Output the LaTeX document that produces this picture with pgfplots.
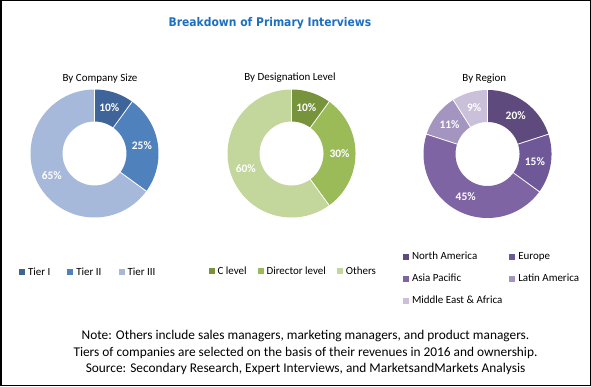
\documentclass[border=0pt]{standalone}
\usepackage{pgfplots}
\usepackage{pgfplotstable}
\pgfplotsset{compat=1.18}
\usepackage{fontspec}
\setmainfont{Carlito}
\newfontfamily\titlefont[FakeStretch=0.9]{DejaVu Sans}

\definecolor{titleblue}{HTML}{1E6FBE}
\definecolor{comp0}{HTML}{3F649A}
\definecolor{comp1}{HTML}{4F81BD}
\definecolor{comp2}{HTML}{A7B9DA}
\definecolor{desg0}{HTML}{77933C}
\definecolor{desg1}{HTML}{9BBB59}
\definecolor{desg2}{HTML}{C3D69B}
\definecolor{regn0}{HTML}{5F4A7D}
\definecolor{regn1}{HTML}{6F5898}
\definecolor{regn2}{HTML}{7F64A4}
\definecolor{regn3}{HTML}{A494C0}
\definecolor{regn4}{HTML}{CAC0DA}

\pgfplotstableread{
name value
TierI 10
TierII 25
TierIII 65
}\companytable
\pgfplotstableread{
name value
Clevel 10
Director 30
Others 60
}\designationtable
\pgfplotstableread{
name value
NorthAmerica 20
Europe 15
AsiaPacific 45
LatinAmerica 11
MEA 9
}\regiontable

\def\rin{32}
\def\rout{64}

% draws the donut segments of table #1 with colours #2<row>
\newcommand\drawdonut[2]{%
  \pgfplotstablegetrowsof{#1}%
  \pgfmathtruncatemacro\lastrow{\pgfplotsretval-1}%
  \def\cum{0}%
  \pgfplotsforeachungrouped \i in {0,...,\lastrow}{%
    \pgfplotstablegetelem{\i}{value}\of{#1}%
    \let\val\pgfplotsretval
    \pgfmathsetmacro\aS{90-3.6*\cum}%
    \pgfmathsetmacro\aE{90-3.6*(\cum+\val)}%
    \pgfmathsetmacro\rmid{(\rin+\rout)/2}%
    \pgfmathsetmacro\lw{\rout-\rin}%
    \edef\temp{%
      \noexpand\addplot[forget plot, draw=#2\i, line width=\lw bp, domain=\aE:\aS, samples=80] ({\rmid*cos(x)},{\rmid*sin(x)});
    }%
    \temp
    \pgfmathsetmacro\cum{\cum+\val}%
  }%
  \def\cum{0}%
  \pgfplotsforeachungrouped \i in {0,...,\lastrow}{%
    \pgfplotstablegetelem{\i}{value}\of{#1}%
    \let\val\pgfplotsretval
    \pgfmathsetmacro\aS{90-3.6*\cum}%
    \pgfmathsetmacro\aE{90-3.6*(\cum+\val)}%
    \pgfmathsetmacro\aM{(\aS+\aE)/2}%
    \pgfmathsetmacro\rmid{(\rin+\rout)/2}%
    \pgfmathsetmacro\lx{\rmid*cos(\aM)}%
    \pgfmathsetmacro\ly{\rmid*sin(\aM)}%
    \pgfmathsetmacro\ax{(\rin-0.5)*cos(\aS)}%
    \pgfmathsetmacro\ay{(\rin-0.5)*sin(\aS)}%
    \pgfmathsetmacro\bx{(\rout+0.5)*cos(\aS)}%
    \pgfmathsetmacro\by{(\rout+0.5)*sin(\aS)}%
    \edef\temp{%
      \noexpand\addplot[forget plot, white, line width=0.8bp] coordinates {(\ax,\ay) (\bx,\by)};
      \noexpand\node[text=white, font=\noexpand\bfseries\noexpand\fontsize{11.5}{13}\noexpand\selectfont] at (axis cs:\lx,\ly) {\val\noexpand\%};
    }%
    \temp
    \pgfmathsetmacro\cum{\cum+\val}%
  }%
}

\pgfplotsset{
  donut/.style={
    hide axis, x=1bp, y=1bp, xmin=-70, xmax=70, ymin=-70, ymax=70,
    clip=false, anchor=origin,
    legend cell align=left,
    legend style={draw=none, fill=none, inner sep=0pt, outer sep=0pt,
      font=\fontsize{11}{13}\selectfont,
      nodes={inner xsep=3bp, inner ysep=1bp}},
    legend image code/.code={\fill[##1, draw=none] (0bp,-3bp) rectangle (6bp,3bp);},
  },
}

\begin{document}
\begin{tikzpicture}[x=1bp,y=1bp]
\useasboundingbox (0,0) rectangle (591,386);
\draw[line width=1.5bp] (0.75,0.75) rectangle (590.25,385.25);

\node[anchor=base, text=titleblue, font=\titlefont\bfseries\fontsize{12}{14}\selectfont] at (270,359.3) {Breakdown of Primary Interviews};

\node[anchor=base, font=\fontsize{11}{13}\selectfont] at (100,305) {By Company Size};
\node[anchor=base, font=\fontsize{11}{13}\selectfont] at (290,305.3) {By Designation Level};
\node[anchor=base, font=\fontsize{11}{13}\selectfont] at (484.3,305) {By Region};

% By Company Size
\begin{axis}[donut, at={(94.5bp,232.5bp)},
  legend columns=3,
  legend style={at={(axis cs:-75.5,-118.5)}, anchor=west,
    /tikz/every even column/.append style={column sep=14bp}}]
  \drawdonut{\companytable}{comp}
  \addlegendimage{fill=comp0}\addlegendentry{Tier I}
  \addlegendimage{fill=comp1}\addlegendentry{Tier II}
  \addlegendimage{fill=comp2}\addlegendentry{Tier III}
\end{axis}

% By Designation Level
\begin{axis}[donut, at={(291.5bp,232.5bp)},
  legend columns=3,
  legend style={at={(axis cs:-83,-117.5)}, anchor=west,
    /tikz/every even column/.append style={column sep=8bp}}]
  \drawdonut{\designationtable}{desg}
  \addlegendimage{fill=desg0}\addlegendentry{C level}
  \addlegendimage{fill=desg1}\addlegendentry{Director level}
  \addlegendimage{fill=desg2}\addlegendentry{Others}
\end{axis}

% By Region
\begin{axis}[donut, at={(487.5bp,232bp)},
  legend columns=2,
  legend style={at={(axis cs:-84.5,-97)}, anchor=north west,
    row sep=11bp,
    /tikz/every even column/.append style={column sep=4bp}}]
  \drawdonut{\regiontable}{regn}
  \addlegendimage{fill=regn0}\addlegendentry{North America}
  \addlegendimage{fill=regn1}\addlegendentry{Europe}
  \addlegendimage{fill=regn2}\addlegendentry{Asia Pacific}
  \addlegendimage{fill=regn3}\addlegendentry{Latin America}
  \addlegendimage{fill=regn4}\addlegendentry{Middle East \& Africa}
\end{axis}

\node[anchor=base, font=\fontsize{13.4}{15}\selectfont] at (305.5,46.7) {Note: Others include sales managers, marketing managers, and product managers.};
\node[anchor=base, font=\fontsize{13.4}{15}\selectfont] at (305.5,30) {Tiers of companies are selected on the basis of their revenues in 2016 and ownership.};
\node[anchor=base, font=\fontsize{13.4}{15}\selectfont] at (305.5,13.3) {Source: Secondary Research, Expert Interviews, and MarketsandMarkets Analysis};
\end{tikzpicture}
\end{document}
